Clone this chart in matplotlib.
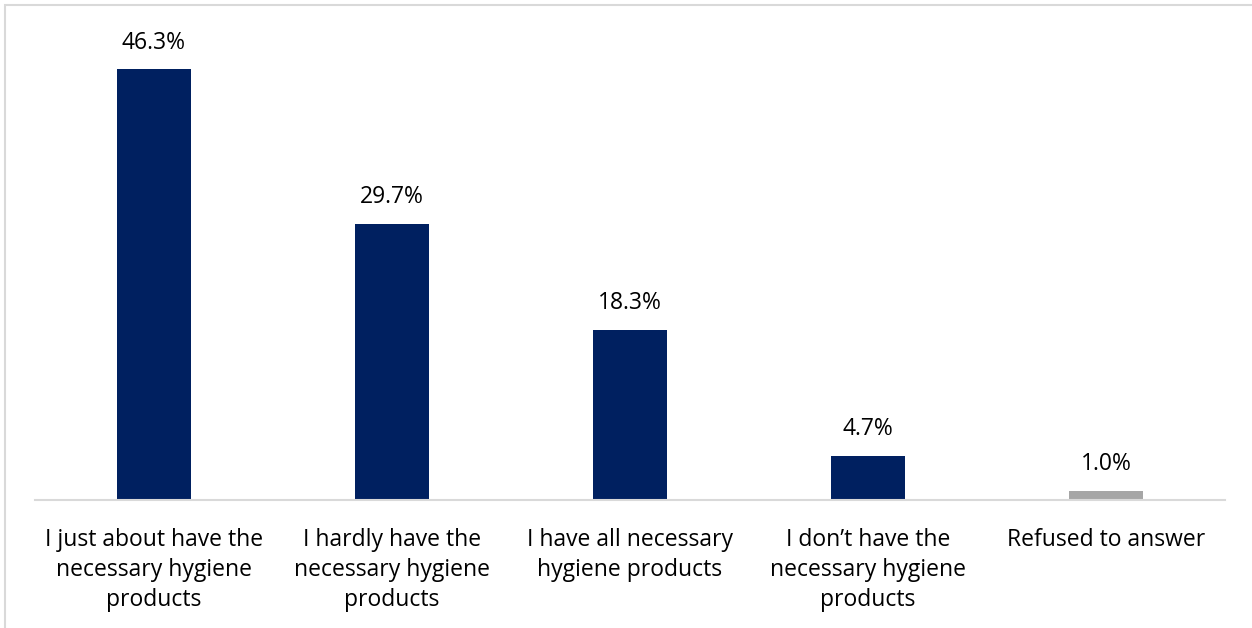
import numpy as np
import matplotlib.pyplot as plt
from matplotlib.patches import Rectangle

plt.rcParams['font.family'] = ['Open Sans', 'DejaVu Sans']

categories = ['I just about have the\nnecessary hygiene\nproducts',
              'I hardly have the\nnecessary hygiene\nproducts',
              'I have all necessary\nhygiene products',
              'I don\u2019t have the\nnecessary hygiene\nproducts',
              'Refused to answer']
values = [46.3, 29.7, 18.3, 4.7, 1.0]
colors = ['#002060', '#002060', '#002060', '#002060', '#A6A6A6']

fig = plt.figure(figsize=(12.52, 6.28), dpi=100)
ax = fig.add_axes([35/1252, 1 - 500/628, 1190/1252, 465/628])

x = np.arange(len(values))
ax.bar(x, values, width=0.315, color=colors)
for xi, v in zip(x, values):
    ax.text(xi, v + 1.6, f'{v:.1f}%', ha='center', va='bottom', fontsize=16.5, color='#000000')

ax.set_xlim(-0.5, len(values) - 0.5)
ax.set_ylim(0, 50)
ax.set_yticks([])
ax.set_xticks(x)
ax.set_xticklabels(categories, fontsize=16.5, linespacing=1.33)
ax.tick_params(axis='x', length=0, pad=20)
for s in ['top', 'right', 'left']:
    ax.spines[s].set_visible(False)
ax.spines['bottom'].set_color('#D9D9D9')
ax.spines['bottom'].set_linewidth(1.5)

# outer chart frame (cropped on right and bottom)
fig.patches.append(Rectangle((5/1252, -0.1), 1.2, 1 - 5/628 + 0.1, transform=fig.transFigure,
                             fill=False, edgecolor='#D9D9D9', linewidth=1.5))

fig.savefig('out.png', dpi=100)
